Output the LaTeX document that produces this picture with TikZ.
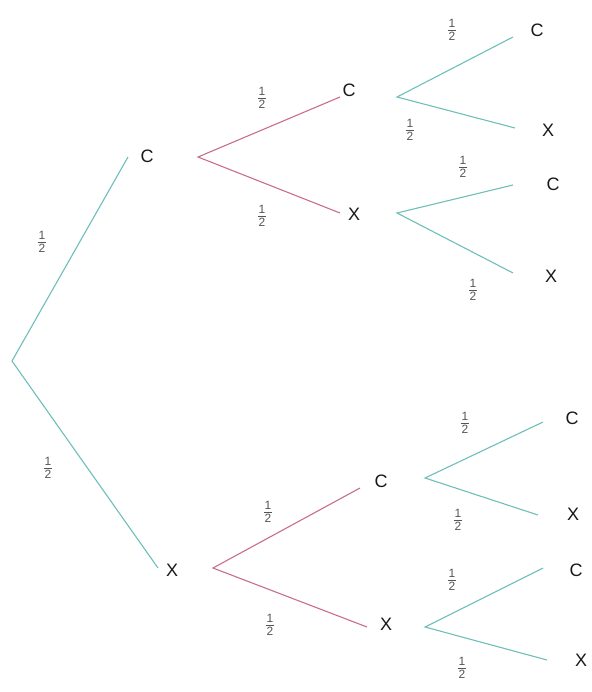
\documentclass[tikz,border=0pt]{standalone}
\usepackage{fontspec}
\setmainfont{Liberation Sans}
\definecolor{teal1}{RGB}{110,190,185}
\definecolor{pink1}{RGB}{200,110,140}
\definecolor{fracgray}{RGB}{85,85,85}
\newcommand{\hf}{\vbox{\hbox to 8pt{\hss 1\hss}\kern2pt\hrule height 0.7pt\kern2pt\hbox to 8pt{\hss 2\hss}}}
\tikzset{
  outc/.style={font=\fontsize{18}{18}\selectfont, text=black!90, inner sep=0pt},
  prob/.style={font=\fontsize{12}{12}\selectfont, text=fracgray, inner sep=0pt},
  tline/.style={draw=teal1, line width=1.1pt},
  pline/.style={draw=pink1, line width=1.1pt}
}
\begin{document}
\begin{tikzpicture}[x=1pt,y=-1pt]
\useasboundingbox (0,0) rectangle (591,692);
% vertices
\coordinate (r) at (12,361);
\coordinate (f1) at (198,157);
\coordinate (f2) at (213,568);
\coordinate (g1) at (397,97);
\coordinate (g2) at (397,213);
\coordinate (g3) at (425,478);
\coordinate (g4) at (425,627);
% line ends
\coordinate (e1) at (128,157);
\coordinate (e2) at (158,568);
\coordinate (e11) at (340,97);
\coordinate (e12) at (340,213);
\coordinate (e21) at (360,488);
\coordinate (e22) at (367,627);
\coordinate (e111) at (513,37);
\coordinate (e112) at (515,128);
\coordinate (e121) at (513,185);
\coordinate (e122) at (513,273);
\coordinate (e211) at (543,422);
\coordinate (e212) at (538,515);
\coordinate (e221) at (543,568);
\coordinate (e222) at (547,660);
% outcome labels
\node[outc] (C) at (147,156) {C};
\node[outc] (X) at (172,570) {X};
\node[outc] (CC) at (349,90) {C};
\node[outc] (CX) at (354,214) {X};
\node[outc] (XC) at (381,481) {C};
\node[outc] (XX) at (386,624) {X};
\node[outc] (CCC) at (537,30) {C};
\node[outc] (CCX) at (548,130) {X};
\node[outc] (CXC) at (553,184) {C};
\node[outc] (CXX) at (551,276) {X};
\node[outc] (XCC) at (572,418) {C};
\node[outc] (XCX) at (573,514) {X};
\node[outc] (XXC) at (576,570) {C};
\node[outc] (XXX) at (581,660) {X};
% branches
\draw[tline] (e1) -- (r) -- (e2);
\draw[pline] (e11) -- (f1) -- (e12);
\draw[pline] (e21) -- (f2) -- (e22);
\draw[tline] (e111) -- (g1) -- (e112);
\draw[tline] (e121) -- (g2) -- (e122);
\draw[tline] (e211) -- (g3) -- (e212);
\draw[tline] (e221) -- (g4) -- (e222);
% probabilities
\node[prob] (p1) at (42,242) {\hf};
\node[prob] (p2) at (48,468) {\hf};
\node[prob] (p11) at (262,98) {\hf};
\node[prob] (p12) at (262,216) {\hf};
\node[prob] (p21) at (268,512) {\hf};
\node[prob] (p22) at (270,625) {\hf};
\node[prob] (p111) at (452,30) {\hf};
\node[prob] (p112) at (410,130) {\hf};
\node[prob] (p121) at (463,167) {\hf};
\node[prob] (p122) at (473,290) {\hf};
\node[prob] (p211) at (465,423) {\hf};
\node[prob] (p212) at (458,520) {\hf};
\node[prob] (p221) at (452,580) {\hf};
\node[prob] (p222) at (462,668) {\hf};
\end{tikzpicture}
\end{document}
